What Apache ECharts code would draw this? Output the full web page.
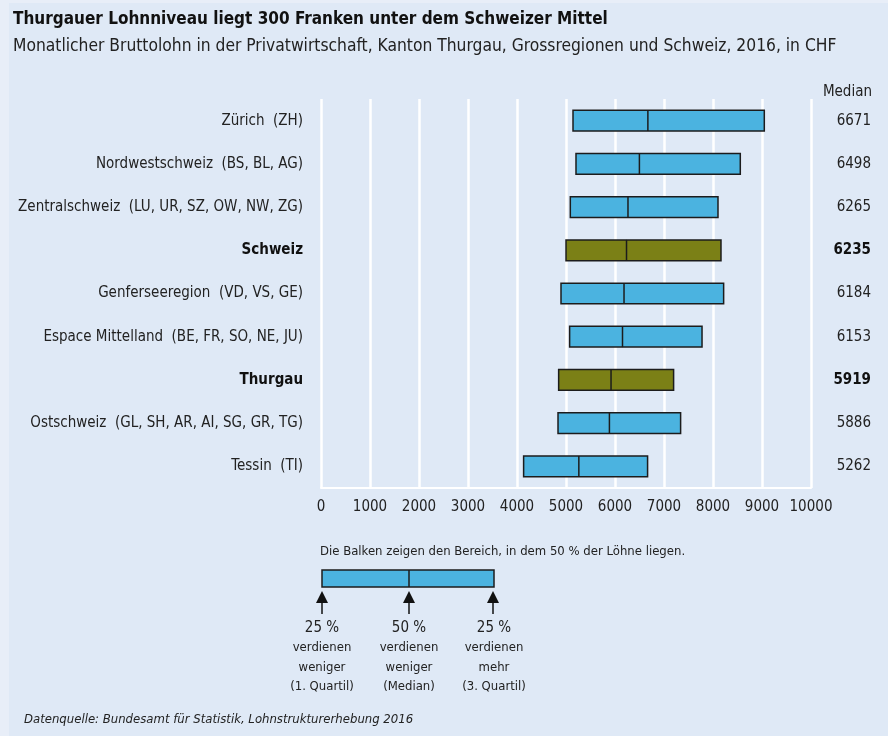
<!DOCTYPE html>
<html>
<head>
<meta charset="utf-8">
<title>Lohnniveau Thurgau</title>
<script src="https://cdn.jsdelivr.net/npm/echarts@6/dist/echarts.min.js"></script>
<style>
  html, body { margin: 0; padding: 0; background: #e8eef8; }
  #chart { width: 888px; height: 736px; }
</style>
</head>
<body>
<div id="chart"></div>
<script>
//---- data
var regions = ['Zürich  (ZH)', 'Nordwestschweiz  (BS, BL, AG)', 'Zentralschweiz  (LU, UR, SZ, OW, NW, ZG)',
    'Schweiz', 'Genferseeregion  (VD, VS, GE)', 'Espace Mittelland  (BE, FR, SO, NE, JU)',
    'Thurgau', 'Ostschweiz  (GL, SH, AR, AI, SG, GR, TG)', 'Tessin  (TI)'];
var quartil1 = [5143, 5204, 5088, 5000, 4898, 5074, 4850, 4837, 4135];
var median   = [6671, 6498, 6265, 6235, 6184, 6153, 5919, 5886, 5262];
var quartil3 = [9047, 8557, 8102, 8163, 8217, 7776, 7196, 7339, 6665];
var highlight = ['Schweiz', 'Thurgau'];
var xTicks = [0, 1000, 2000, 3000, 4000, 5000, 6000, 7000, 8000, 9000, 10000];

var FONT = "'Liberation Sans Narrow', 'DejaVu Sans Condensed', 'Roboto', sans-serif";
var BLUE = '#4bb3e0', OLIVE = '#7b8016', EDGE = '#1c1c1c';

var boxData = regions.map(function (r, i) {
    return [i, quartil1[i], median[i], quartil3[i]];
});

function renderBox(params, api) {
    var i = api.value(0);
    var lo = api.coord([api.value(1), i]);
    var md = api.coord([api.value(2), i]);
    var hi = api.coord([api.value(3), i]);
    var h = api.size([0, 1])[1] * 0.48;
    var fill = highlight.indexOf(regions[i]) >= 0 ? OLIVE : BLUE;
    return {
        type: 'group',
        children: [{
            type: 'rect',
            shape: { x: lo[0], y: lo[1] - h / 2, width: hi[0] - lo[0], height: h },
            style: { fill: fill, stroke: EDGE, lineWidth: 1.5 }
        }, {
            type: 'line',
            shape: { x1: md[0], y1: lo[1] - h / 2, x2: md[0], y2: lo[1] + h / 2 },
            style: { stroke: EDGE, lineWidth: 1.5 }
        }]
    };
}

//---- legend sketch under the chart
function arrow(x) {
    return [{
        type: 'polygon',
        shape: { points: [[x, 591], [x - 6, 603], [x + 6, 603]] },
        style: { fill: '#111' }
    }, {
        type: 'line',
        shape: { x1: x, y1: 602, x2: x, y2: 614 },
        style: { stroke: '#111', lineWidth: 1.5 }
    }];
}
function caption(x, lines) {
    var out = [{
        type: 'text', x: x, y: 628,
        style: { text: lines[0], font: '15px ' + FONT, fill: '#222', align: 'center', verticalAlign: 'middle' }
    }];
    for (var k = 1; k < lines.length; k++) {
        out.push({
            type: 'text', x: x, y: 648 + (k - 1) * 19.5,
            style: { text: lines[k], font: '13px ' + FONT, fill: '#222', align: 'center', verticalAlign: 'middle' }
        });
    }
    return out;
}

var graphics = [{
    type: 'rect', z: -10,
    shape: { x: 9, y: 3, width: 879, height: 733 },
    style: { fill: '#dfe9f6' }
}, {
    type: 'text', x: 13, y: 20,
    style: { text: 'Thurgauer Lohnniveau liegt 300 Franken unter dem Schweizer Mittel', font: 'bold 17px ' + FONT, fill: '#111', verticalAlign: 'middle' }
}, {
    type: 'text', x: 13, y: 47,
    style: { text: 'Monatlicher Bruttolohn in der Privatwirtschaft, Kanton Thurgau, Grossregionen und Schweiz, 2016, in CHF', font: '17.3px ' + FONT, fill: '#222', verticalAlign: 'middle' }
}, {
    type: 'text', x: 872, y: 92,
    style: { text: 'Median', font: '15px ' + FONT, fill: '#222', align: 'right', verticalAlign: 'middle' }
}, {
    type: 'text', x: 320, y: 552,
    style: { text: 'Die Balken zeigen den Bereich, in dem 50 % der Löhne liegen.', font: '13px ' + FONT, fill: '#222', verticalAlign: 'middle' }
}, {
    type: 'rect',
    shape: { x: 322, y: 570, width: 172, height: 17 },
    style: { fill: BLUE, stroke: EDGE, lineWidth: 1.5 }
}, {
    type: 'line',
    shape: { x1: 409, y1: 570, x2: 409, y2: 587 },
    style: { stroke: EDGE, lineWidth: 1.5 }
}, {
    type: 'text', x: 24, y: 720,
    style: { text: 'Datenquelle: Bundesamt für Statistik, Lohnstrukturerhebung 2016', font: 'italic 13px ' + FONT, fill: '#222', verticalAlign: 'middle' }
}];
graphics = graphics
    .concat(arrow(322), arrow(409), arrow(493))
    .concat(caption(322, ['25 %', 'verdienen', 'weniger', '(1. Quartil)']))
    .concat(caption(409, ['50 %', 'verdienen', 'weniger', '(Median)']))
    .concat(caption(494, ['25 %', 'verdienen', 'mehr', '(3. Quartil)']));

//---- chart
var myChart = echarts.init(document.getElementById('chart'), null, { renderer: 'canvas' });
var option = {
    backgroundColor: '#e8eef8',
    animation: false,
    textStyle: { fontFamily: FONT },
    grid: { left: 321, right: 77, top: 99, bottom: 248, containLabel: false },
    xAxis: {
        type: 'value',
        min: xTicks[0],
        max: xTicks[xTicks.length - 1],
        interval: 1000,
        axisLine: { show: true, lineStyle: { color: '#ffffff', width: 2 } },
        axisTick: { show: false },
        splitLine: { show: true, lineStyle: { color: '#ffffff', width: 2.5 } },
        axisLabel: {
            color: '#222', fontSize: 15, margin: 12, fontFamily: FONT,
            formatter: function (v) { return String(v); }
        }
    },
    yAxis: [{
        type: 'category',
        data: regions,
        inverse: true,
        axisLine: { show: false },
        axisTick: { show: false },
        splitLine: { show: false },
        axisLabel: {
            margin: 18,
            color: '#222',
            fontSize: 15,
            fontFamily: FONT,
            formatter: function (v) {
                return highlight.indexOf(v) >= 0 ? '{b|' + v + '}' : v;
            },
            rich: { b: { fontWeight: 'bold', fontSize: 15, color: '#111', fontFamily: FONT } }
        }
    }, {
        type: 'category',
        data: regions,
        inverse: true,
        position: 'right',
        axisLine: { show: false },
        axisTick: { show: false },
        splitLine: { show: false },
        axisLabel: {
            margin: 60,
            align: 'right',
            color: '#222',
            fontSize: 15,
            fontFamily: FONT,
            formatter: function (v, i) {
                var m = String(median[i]);
                return highlight.indexOf(v) >= 0 ? '{b|' + m + '}' : m;
            },
            rich: { b: { fontWeight: 'bold', fontSize: 15, color: '#111', fontFamily: FONT } }
        }
    }],
    series: [{
        type: 'custom',
        renderItem: renderBox,
        encode: { x: [1, 2, 3], y: 0 },
        data: boxData,
        z: 5
    }],
    graphic: graphics
};
myChart.setOption(option);
</script>
</body>
</html>
